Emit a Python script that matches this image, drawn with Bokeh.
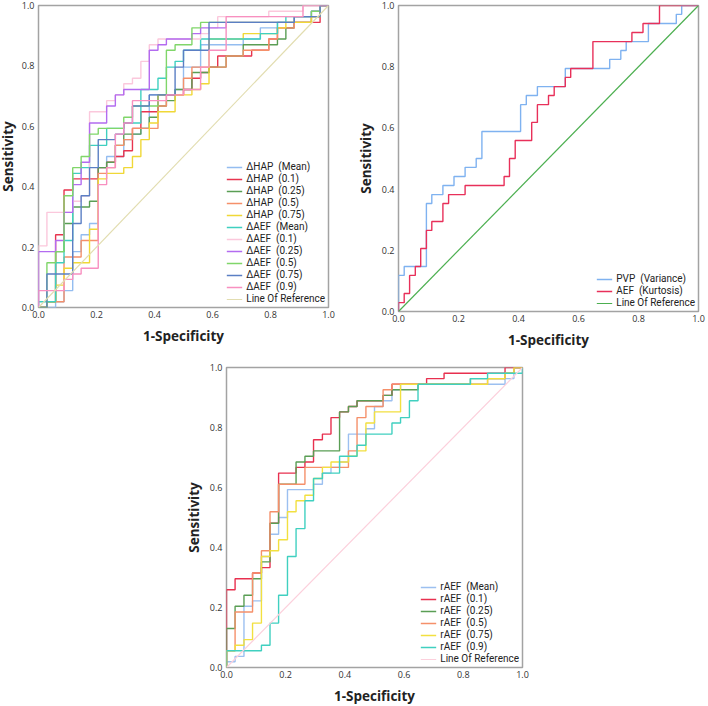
from bokeh.plotting import figure
from bokeh.layouts import column, row
from bokeh.models import Range1d, FixedTicker, PrintfTickFormatter
from bokeh.embed import file_html
from bokeh.resources import INLINE

# ---------------- data ----------------
TICKS = [0.0, 0.2, 0.4, 0.6, 0.8, 1.0]
REF_X = [0.0, 1.0]
REF_Y = [0.0, 1.0]

# Panel 1 : ΔHAP / ΔAEF  (x = 1-specificity at step, y = sensitivity after step)
P1_LABELS = ["ΔHAP  (Mean)", "ΔHAP  (0.1)", "ΔHAP  (0.25)", "ΔHAP  (0.5)", "ΔHAP  (0.75)",
             "ΔAEF  (Mean)", "ΔAEF  (0.1)", "ΔAEF  (0.25)", "ΔAEF  (0.5)", "ΔAEF  (0.75)",
             "ΔAEF  (0.9)"]
P1_COLORS = ["#94bdf0", "#e8354f", "#5a9e55", "#f5906a", "#f0d837",
             "#3fd0c0", "#fbc8dc", "#b36cf0", "#80d66a", "#5b7fc4", "#f890c0"]
P1_REF_COLOR = "#e2ddb0"

HAP_MEAN_X = [0, 0.059, 0.088, 0.118, 0.147, 0.176, 0.206, 0.235, 0.294, 0.324, 0.353, 0.382, 0.471, 0.5, 0.559, 0.706, 0.765, 0.824, 0.882, 0.971, 1.0]
HAP_MEAN_Y = [0, 0.019, 0.056, 0.185, 0.241, 0.278, 0.463, 0.5, 0.556, 0.574, 0.593, 0.704, 0.722, 0.796, 0.870, 0.889, 0.926, 0.944, 0.963, 1.0, 1.0]
HAP_01_X = [0, 0.029, 0.059, 0.088, 0.118, 0.206, 0.235, 0.265, 0.294, 0.324, 0.353, 0.412, 0.5, 0.529, 0.559, 0.588, 0.618, 0.735, 0.794, 0.824, 0.882, 0.971, 1.0]
HAP_01_Y = [0, 0.019, 0.241, 0.389, 0.426, 0.463, 0.481, 0.500, 0.519, 0.593, 0.648, 0.704, 0.722, 0.759, 0.778, 0.796, 0.833, 0.852, 0.889, 0.926, 0.944, 1.0, 1.0]
HAP_025_X = [0, 0.029, 0.059, 0.088, 0.118, 0.176, 0.206, 0.235, 0.265, 0.294, 0.353, 0.382, 0.412, 0.441, 0.471, 0.529, 0.588, 0.647, 0.706, 0.824, 0.853, 0.882, 0.941, 0.971, 1.0]
HAP_025_Y = [0, 0.019, 0.185, 0.278, 0.333, 0.352, 0.463, 0.481, 0.537, 0.574, 0.593, 0.630, 0.667, 0.685, 0.722, 0.778, 0.796, 0.833, 0.870, 0.889, 0.926, 0.944, 0.963, 1.0, 1.0]
HAP_05_X = [0, 0.029, 0.088, 0.147, 0.206, 0.235, 0.265, 0.294, 0.324, 0.412, 0.441, 0.5, 0.529, 0.647, 0.706, 0.794, 0.824, 0.882, 0.941, 0.971, 1.0]
HAP_05_Y = [0, 0.019, 0.167, 0.222, 0.444, 0.463, 0.537, 0.556, 0.593, 0.667, 0.704, 0.759, 0.796, 0.833, 0.852, 0.889, 0.926, 0.944, 0.963, 1.0, 1.0]
HAP_075_X = [0, 0.029, 0.059, 0.088, 0.118, 0.176, 0.206, 0.235, 0.294, 0.324, 0.353, 0.382, 0.412, 0.471, 0.529, 0.559, 0.588, 0.706, 0.824, 0.853, 0.941, 0.971, 1.0]
HAP_075_Y = [0, 0.019, 0.074, 0.130, 0.148, 0.259, 0.426, 0.444, 0.463, 0.500, 0.556, 0.611, 0.648, 0.704, 0.722, 0.741, 0.889, 0.907, 0.926, 0.944, 0.963, 1.0, 1.0]
AEF_MEAN_X = [0, 0, 0.059, 0.088, 0.118, 0.147, 0.176, 0.235, 0.294, 0.353, 0.412, 0.441, 0.471, 0.5, 0.559, 0.765, 0.824, 0.853, 0.941, 0.971, 1.0]
AEF_MEAN_Y = [0, 0.019, 0.148, 0.222, 0.444, 0.463, 0.537, 0.593, 0.611, 0.722, 0.759, 0.796, 0.815, 0.852, 0.889, 0.907, 0.944, 0.963, 0.981, 1.0, 1.0]
AEF_01_X = [0, 0, 0.029, 0.118, 0.147, 0.176, 0.235, 0.265, 0.294, 0.324, 0.353, 0.382, 0.412, 0.559, 0.588, 0.618, 0.794, 0.912, 1.0]
AEF_01_Y = [0, 0.204, 0.315, 0.352, 0.370, 0.648, 0.685, 0.704, 0.741, 0.759, 0.815, 0.870, 0.889, 0.907, 0.926, 0.963, 0.981, 1.0, 1.0]
AEF_025_X = [0, 0, 0.059, 0.088, 0.118, 0.147, 0.176, 0.235, 0.265, 0.294, 0.382, 0.412, 0.441, 0.529, 0.559, 0.647, 0.882, 0.941, 0.971, 1.0]
AEF_025_Y = [0, 0.185, 0.222, 0.315, 0.407, 0.481, 0.611, 0.667, 0.704, 0.722, 0.852, 0.870, 0.889, 0.907, 0.926, 0.944, 0.963, 0.981, 1.0, 1.0]
AEF_05_X = [0, 0.029, 0.059, 0.088, 0.118, 0.147, 0.176, 0.206, 0.294, 0.324, 0.412, 0.441, 0.471, 0.529, 0.559, 0.882, 0.941, 0.971, 1.0]
AEF_05_Y = [0, 0.148, 0.185, 0.370, 0.463, 0.500, 0.574, 0.593, 0.630, 0.667, 0.704, 0.852, 0.870, 0.926, 0.944, 0.963, 0.981, 1.0, 1.0]
AEF_075_X = [0, 0.029, 0.118, 0.147, 0.176, 0.206, 0.265, 0.294, 0.324, 0.382, 0.471, 0.5, 0.588, 0.882, 0.971, 1.0]
AEF_075_Y = [0, 0.111, 0.278, 0.370, 0.463, 0.556, 0.574, 0.611, 0.667, 0.704, 0.796, 0.852, 0.944, 0.963, 1.0, 1.0]
AEF_09_X = [0, 0, 0.088, 0.118, 0.147, 0.206, 0.235, 0.265, 0.294, 0.324, 0.441, 0.5, 0.559, 0.588, 0.647, 0.912, 1.0]
AEF_09_Y = [0, 0.056, 0.093, 0.111, 0.130, 0.407, 0.463, 0.574, 0.611, 0.685, 0.704, 0.722, 0.796, 0.852, 0.963, 1.0, 1.0]

P1_X = [HAP_MEAN_X, HAP_01_X, HAP_025_X, HAP_05_X, HAP_075_X,
        AEF_MEAN_X, AEF_01_X, AEF_025_X, AEF_05_X, AEF_075_X, AEF_09_X]
P1_Y = [HAP_MEAN_Y, HAP_01_Y, HAP_025_Y, HAP_05_Y, HAP_075_Y,
        AEF_MEAN_Y, AEF_01_Y, AEF_025_Y, AEF_05_Y, AEF_075_Y, AEF_09_Y]

# Panel 2 : PVP (Variance) / AEF (Kurtosis)
P2_LABELS = ["PVP  (Variance)", "AEF  (Kurtosis)"]
P2_COLORS = ["#7fb2f0", "#e8305a"]
P2_REF_COLOR = "#4caf50"
PVP_X = [0, 0, 0.019, 0.093, 0.111, 0.148, 0.185, 0.222, 0.259, 0.278, 0.407, 0.426, 0.463, 0.556, 0.704, 0.741, 0.759, 0.833, 0.926, 0.944, 1.0]
PVP_Y = [0, 0.118, 0.147, 0.353, 0.382, 0.412, 0.441, 0.471, 0.500, 0.588, 0.676, 0.706, 0.735, 0.794, 0.824, 0.853, 0.882, 0.941, 0.971, 1.0, 1.0]
KURT_X = [0, 0, 0.019, 0.037, 0.056, 0.074, 0.093, 0.111, 0.148, 0.167, 0.222, 0.352, 0.370, 0.389, 0.444, 0.463, 0.5, 0.519, 0.556, 0.574, 0.648, 0.778, 0.815, 0.870, 1.0]
KURT_Y = [0, 0.029, 0.059, 0.118, 0.147, 0.206, 0.265, 0.294, 0.353, 0.382, 0.412, 0.441, 0.500, 0.559, 0.618, 0.676, 0.706, 0.735, 0.765, 0.794, 0.882, 0.912, 0.941, 1.0, 1.0]
P2_X = [PVP_X, KURT_X]
P2_Y = [PVP_Y, KURT_Y]

# Panel 3 : rAEF
P3_LABELS = ["rAEF  (Mean)", "rAEF  (0.1)", "rAEF  (0.25)", "rAEF  (0.5)", "rAEF  (0.75)", "rAEF  (0.9)"]
P3_COLORS = ["#9cc0f0", "#e8304f", "#5a9e55", "#f5906a", "#f2e040", "#40d0c0"]
P3_REF_COLOR = "#fcd0dc"
RAEF_MEAN_X = [0, 0, 0.029, 0.059, 0.088, 0.118, 0.147, 0.176, 0.206, 0.294, 0.324, 0.353, 0.382, 0.412, 0.471, 0.5, 0.529, 0.559, 0.588, 0.941, 0.971, 1.0]
RAEF_MEAN_Y = [0, 0.019, 0.037, 0.204, 0.222, 0.370, 0.444, 0.500, 0.593, 0.611, 0.648, 0.667, 0.685, 0.778, 0.796, 0.870, 0.889, 0.926, 0.944, 0.963, 1.0, 1.0]
RAEF_01_X = [0, 0, 0.029, 0.088, 0.118, 0.147, 0.176, 0.235, 0.265, 0.294, 0.324, 0.353, 0.382, 0.412, 0.441, 0.529, 0.559, 0.676, 0.735, 0.941, 1.0]
RAEF_01_Y = [0, 0.259, 0.296, 0.315, 0.333, 0.481, 0.648, 0.667, 0.685, 0.759, 0.778, 0.833, 0.852, 0.870, 0.889, 0.907, 0.944, 0.963, 0.981, 1.0, 1.0]
RAEF_025_X = [0, 0, 0.029, 0.059, 0.088, 0.118, 0.147, 0.176, 0.235, 0.265, 0.294, 0.382, 0.412, 0.441, 0.529, 0.559, 0.647, 0.824, 0.941, 0.971, 1.0]
RAEF_025_Y = [0, 0.130, 0.204, 0.241, 0.296, 0.352, 0.481, 0.611, 0.685, 0.704, 0.722, 0.852, 0.870, 0.889, 0.907, 0.926, 0.944, 0.963, 0.981, 1.0, 1.0]
RAEF_05_X = [0, 0, 0.029, 0.088, 0.118, 0.147, 0.176, 0.265, 0.412, 0.441, 0.471, 0.529, 0.559, 0.882, 0.941, 0.971, 1.0]
RAEF_05_Y = [0, 0.056, 0.185, 0.315, 0.389, 0.519, 0.611, 0.667, 0.722, 0.833, 0.870, 0.926, 0.944, 0.963, 0.981, 1.0, 1.0]
RAEF_075_X = [0, 0, 0.029, 0.059, 0.088, 0.118, 0.147, 0.176, 0.206, 0.235, 0.265, 0.294, 0.324, 0.353, 0.412, 0.441, 0.471, 0.5, 0.588, 0.882, 0.941, 0.971, 1.0]
RAEF_075_Y = [0, 0.056, 0.074, 0.093, 0.148, 0.370, 0.389, 0.426, 0.519, 0.556, 0.574, 0.630, 0.667, 0.685, 0.704, 0.722, 0.815, 0.852, 0.944, 0.963, 0.981, 1.0, 1.0]
RAEF_09_X = [0, 0, 0.118, 0.147, 0.176, 0.206, 0.235, 0.265, 0.294, 0.324, 0.382, 0.441, 0.471, 0.559, 0.588, 0.618, 0.647, 0.824, 0.882, 1.0]
RAEF_09_Y = [0, 0.056, 0.074, 0.148, 0.241, 0.370, 0.463, 0.556, 0.630, 0.648, 0.704, 0.741, 0.778, 0.815, 0.833, 0.889, 0.944, 0.963, 0.981, 1.0]
P3_X = [RAEF_MEAN_X, RAEF_01_X, RAEF_025_X, RAEF_05_X, RAEF_075_X, RAEF_09_X]
P3_Y = [RAEF_MEAN_Y, RAEF_01_Y, RAEF_025_Y, RAEF_05_Y, RAEF_075_Y, RAEF_09_Y]

FONT = "Open Sans"
LEGEND_FONT = "Roboto"


def make_panel(xs, ys, labels, colors, ref_color, frame_w, frame_h,
               left, right, top, bottom, legend_font, leg_spacing, ylab_standoff):
    p = figure(frame_width=frame_w, frame_height=frame_h,
               min_border_left=left, min_border_right=right,
               min_border_top=top, min_border_bottom=bottom,
               x_range=Range1d(0, 1), y_range=Range1d(0, 1),
               x_axis_label="1-Specificity", y_axis_label="Sensitivity",
               output_backend="svg", toolbar_location=None)
    for x, y, lab, col in zip(xs, ys, labels, colors):
        p.step(x, y, mode="after", line_color=col, line_width=1.4, legend_label=lab)
    p.line(REF_X, REF_Y, line_color=ref_color, line_width=1.2, legend_label="Line Of Reference")

    p.outline_line_color = "#a3a3a3"
    p.outline_line_width = 1.5
    p.xgrid.visible = False
    p.ygrid.visible = False
    p.background_fill_color = "white"
    p.border_fill_color = "white"
    for ax in (p.xaxis[0], p.yaxis[0]):
        ax.ticker = FixedTicker(ticks=TICKS)
        ax.formatter = PrintfTickFormatter(format="%.1f")
        ax.axis_line_color = None
        ax.major_tick_line_color = None
        ax.minor_tick_line_color = None
        ax.major_tick_out = 0
        ax.major_tick_in = 0
        ax.major_label_text_font = FONT
        ax.major_label_text_font_size = "9px"
        ax.major_label_text_color = "#333333"
        ax.axis_label_text_font = FONT
        ax.axis_label_text_font_style = "bold"
        ax.axis_label_text_font_size = "13.5px"
        ax.axis_label_text_color = "#222222"
    p.xaxis[0].major_label_standoff = 3
    p.xaxis[0].axis_label_standoff = 6
    p.yaxis[0].major_label_standoff = 4
    p.yaxis[0].axis_label_standoff = ylab_standoff

    lg = p.legend[0]
    lg.location = "bottom_right"
    lg.label_text_font = LEGEND_FONT
    lg.label_text_font_size = legend_font
    lg.label_text_color = "#222222"
    lg.glyph_width = 16
    lg.glyph_height = 10
    lg.label_height = 10
    lg.label_standoff = 4
    lg.spacing = leg_spacing
    lg.padding = 3
    lg.margin = 3
    lg.border_line_color = None
    lg.background_fill_color = "white"
    lg.background_fill_alpha = 1.0
    return p


p1 = make_panel(P1_X, P1_Y, P1_LABELS, P1_COLORS, P1_REF_COLOR,
                290, 302, 46, 21, 13, 43, "10px", 1, 2)
p2 = make_panel(P2_X, P2_Y, P2_LABELS, P2_COLORS, P2_REF_COLOR,
                300, 306, 49, 10, 13, 39, "10px", 1, 4)
p3 = make_panel(P3_X, P3_Y, P3_LABELS, P3_COLORS, P3_REF_COLOR,
                296, 300, 234, 186, 16, 38, "10px", 1, 4)

layout = column(row(p1, p2, spacing=0), p3, spacing=0, margin=(-8, -8, -8, -8))

open("out.html", "w").write(file_html(layout, INLINE))
